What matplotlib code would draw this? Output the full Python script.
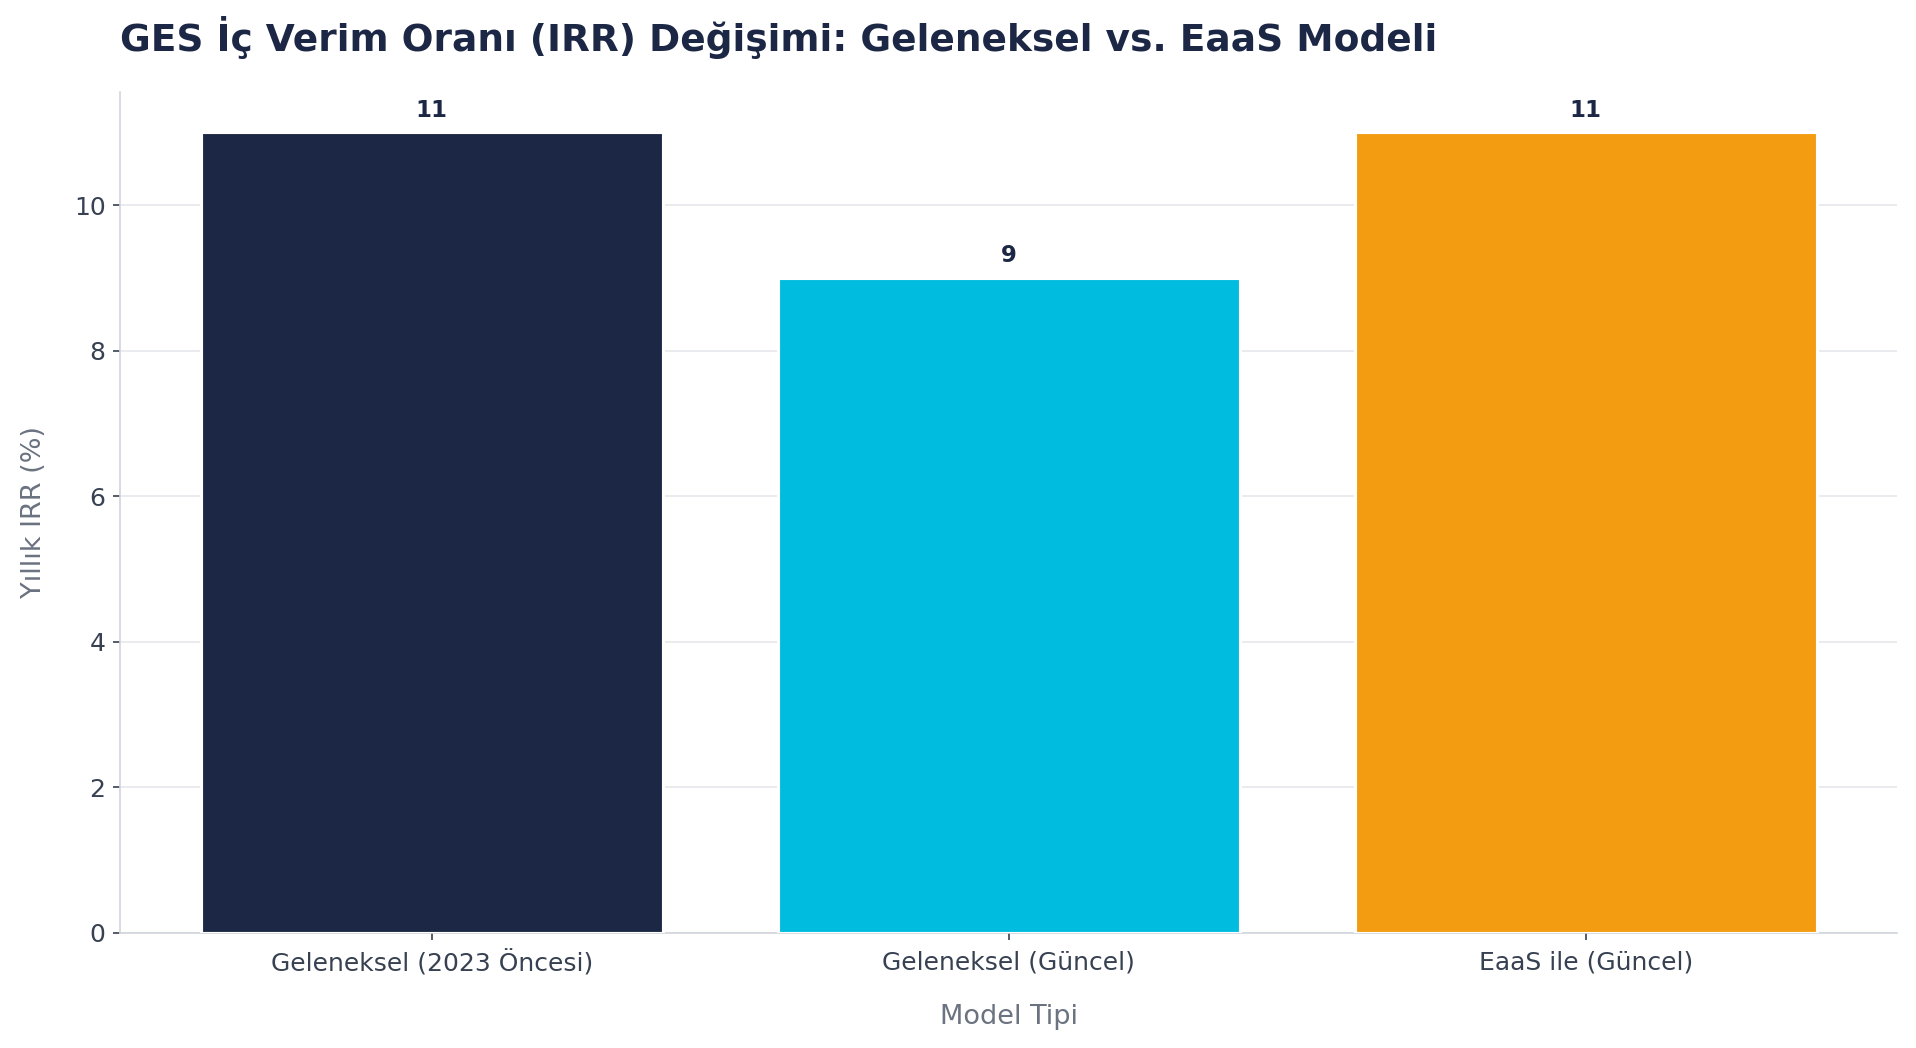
import matplotlib.pyplot as plt

categories = ["Geleneksel (2023 Öncesi)", "Geleneksel (Güncel)", "EaaS ile (Güncel)"]
irr_values = [11, 9, 11]
bar_colors = ["#1b2744", "#00bcdf", "#f39c12"]

navy = "#1b2744"

fig, ax = plt.subplots(figsize=(1916 / 150, 1048 / 150), dpi=150)
fig.subplots_adjust(left=0.0627, right=0.9903, top=0.912, bottom=0.11)

bars = ax.bar(categories, irr_values, width=0.8, color=bar_colors,
              edgecolor="white", linewidth=1.5, zorder=3)
ax.set_ylim(0, max(irr_values) * 1.05)

for b, v in zip(bars, irr_values):
    ax.annotate(f"{v}", (b.get_x() + b.get_width() / 2, b.get_height()),
                xytext=(0, 5), textcoords="offset points",
                ha="center", va="bottom", fontsize=11, fontweight="bold",
                color=navy)

ax.set_title("GES İç Verim Oranı (IRR) Değişimi: Geleneksel vs. EaaS Modeli",
             loc="left", fontsize=18, fontweight="bold", color=navy, pad=20)
ax.set_xlabel("Model Tipi", fontsize=13, color="#6b7280", labelpad=13)
ax.set_ylabel("Yıllık IRR (%)", fontsize=13, color="#6b7280", labelpad=13)

ax.yaxis.grid(True, color="#e5e7eb", linewidth=0.8, zorder=0)
ax.set_axisbelow(True)
for s in ["top", "right"]:
    ax.spines[s].set_visible(False)
for s in ["left", "bottom"]:
    ax.spines[s].set_color("#d1d5db")
ax.tick_params(axis="both", labelsize=12, colors="#374151")
ax.tick_params(axis="x", pad=5)

fig.savefig("out.png", dpi=150)
